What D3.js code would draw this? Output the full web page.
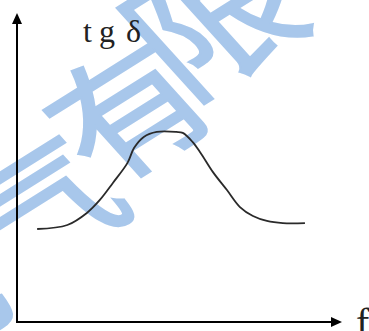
<!DOCTYPE html>
<html><head><meta charset="utf-8">
<script src="https://cdn.jsdelivr.net/npm/d3@7"></script>
<style>html,body{margin:0;padding:0;background:#fff;overflow:hidden}</style>
</head><body>
<svg id="c" width="369" height="331"></svg>
<script>
// Curve data (arbitrary units): frequency f vs tg δ
const freq = [0.62,1.55,2.15,2.55,2.95,3.4,3.6,3.9,4.3,4.9,5.1,5.4,5.65,6.03,6.46,6.86,7.26,7.69,8.18,8.86];
const tgd  = [3.01,3.14,3.53,3.95,4.5,5.15,5.63,5.99,6.15,6.15,6.12,5.83,5.47,4.85,4.27,3.72,3.43,3.27,3.20,3.20];
const xLabel = "f";
const yLabel = "tg δ";
const watermark = ["电","气","有","限","公","司"];

const svg = d3.select("#c");
const x = d3.scaleLinear().domain([0,10]).range([17,342]);
const y = d3.scaleLinear().domain([0,10]).range([322,13]);

// watermark (behind)
const wm = svg.append("g");
const c1 = [123,104], stepV = [90,-95];
watermark.forEach((ch,i)=>{
  const k = i-2;
  let cx = c1[0] + k*stepV[0], cy = c1[1] + k*stepV[1];
  if (k === -2) { cx = -84; cy = 300; }
  if (k === 1) { cx = 207; cy = 14; }
  wm.append("text").attr("transform",`translate(${cx},${cy}) scale(1.2,1) rotate(-37)`)
    .attr("text-anchor","middle").attr("dominant-baseline","central")
    .attr("font-family","Noto Sans CJK SC").attr("font-size",k === 1 ? 138 : 130)
    .attr("fill","#a8c7eb").attr("stroke","#a8c7eb").attr("stroke-width",2).text(ch);
});

// axes
const ax = svg.append("g").attr("stroke","#000").attr("stroke-width",2);
ax.append("line").attr("x1",x(0)).attr("y1",y(0)).attr("x2",x(0)).attr("y2",y(10)+8);
ax.append("line").attr("x1",x(0)-1).attr("y1",y(0)).attr("x2",x(10)-8).attr("y2",y(0));
svg.append("path").attr("d",`M${x(0)},${y(10)} L${x(0)-5},${y(10)+11} L${x(0)+5},${y(10)+11}Z`).attr("fill","#000");
svg.append("path").attr("d",`M${x(10)},${y(0)} L${x(10)-11},${y(0)-5} L${x(10)-11},${y(0)+5}Z`).attr("fill","#000");

// curve
const line = d3.line().x((d,i)=>x(freq[i])).y(d=>y(d)).curve(d3.curveCatmullRom);
svg.append("path").attr("d",line(tgd)).attr("fill","none").attr("stroke","#2a2a2a").attr("stroke-width",1.8);

// labels
svg.append("text").attr("x","83 99 112 126").attr("y",42).attr("font-family","Liberation Serif").attr("font-size",32)
  .attr("fill","#222").text(yLabel);
svg.append("text").attr("x",356).attr("y",336).attr("font-family","Liberation Serif").attr("font-size",40)
  .attr("fill","#222").text(xLabel);
</script>
</body></html>
